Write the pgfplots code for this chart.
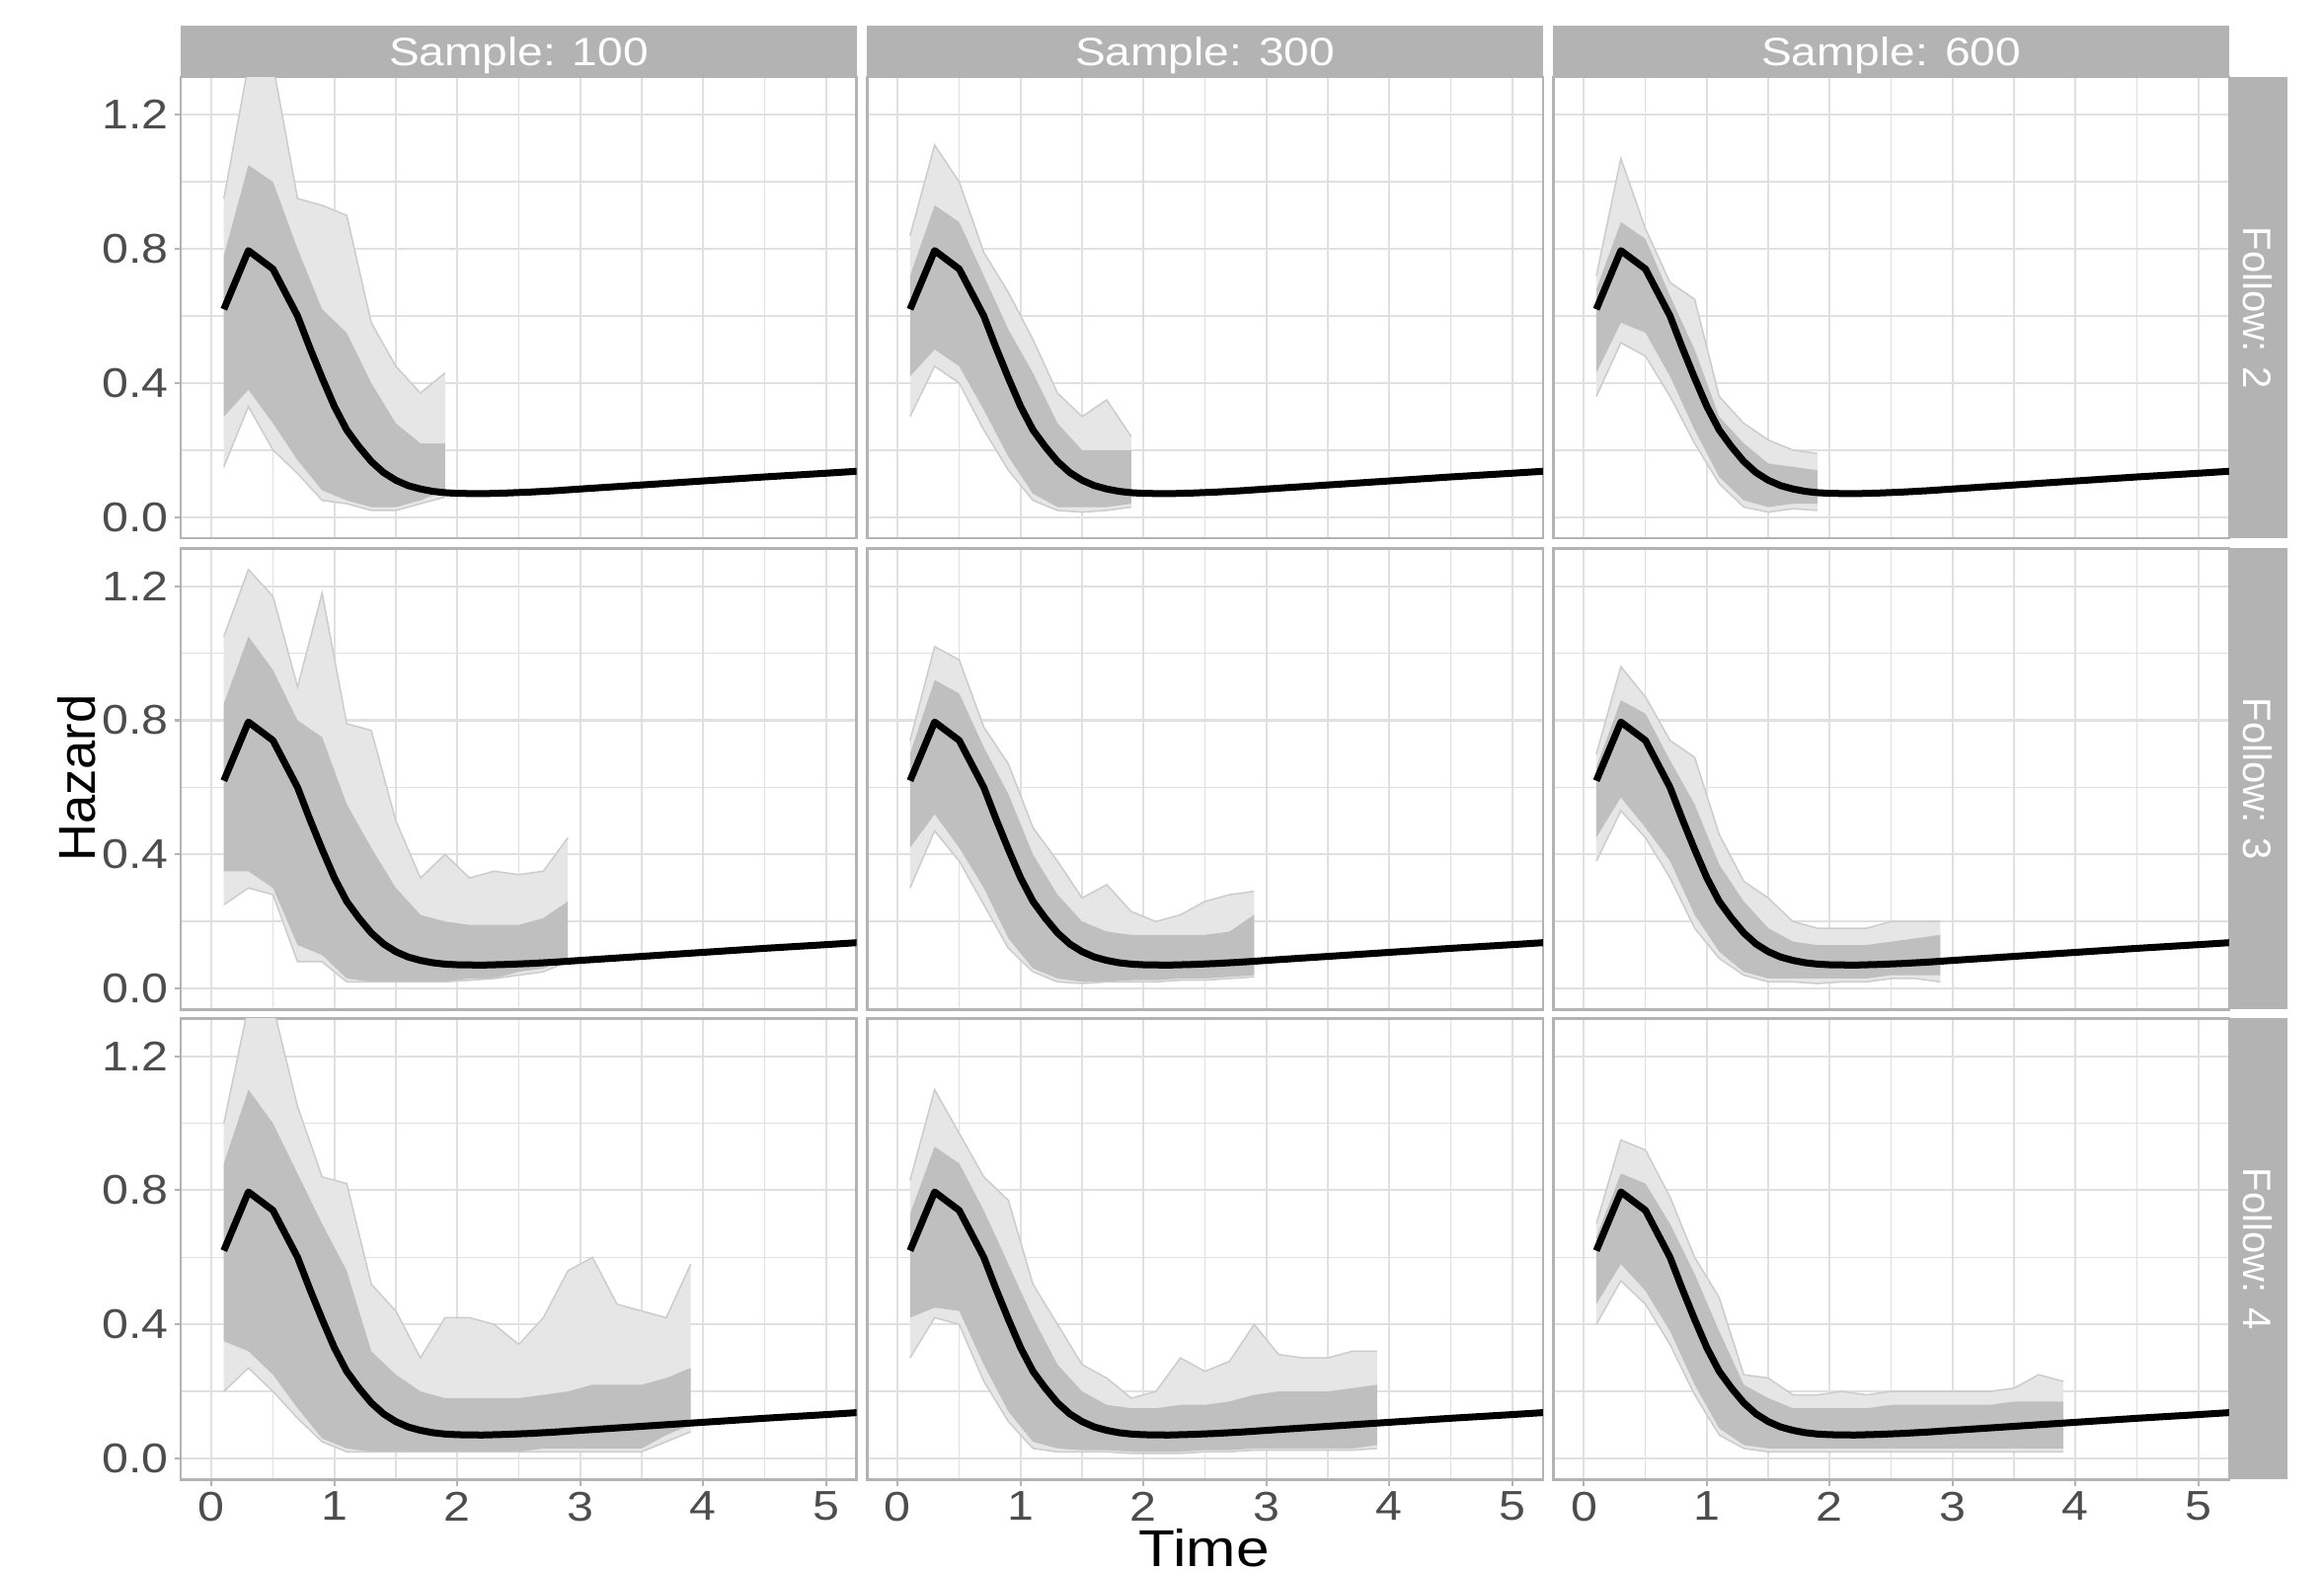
\documentclass[border=0pt]{standalone}
\usepackage{pgfplots}
\pgfplotsset{compat=1.18}
\usepackage{pgfplotstable}
\usepgfplotslibrary{fillbetween}
\usepackage{fontspec}
\setmainfont{Liberation Sans}[FakeStretch=1.15]
\newfontfamily\plainfont{Liberation Sans}

\definecolor{stripc}{HTML}{B3B3B3}
\definecolor{gridc}{HTML}{E0E0E0}
\definecolor{tickc}{HTML}{4D4D4D}
\definecolor{corec}{HTML}{BFBFBF}
\definecolor{outerc}{HTML}{E6E6E6}
\definecolor{edgec}{HTML}{CCCCCC}

% true hazard (black line)
\pgfplotstableread{
x y
0.1 0.62
0.3 0.795
0.5 0.74
0.6 0.67
0.7 0.60
0.8 0.505
0.9 0.415
1.0 0.33
1.1 0.26
1.2 0.21
1.3 0.166
1.4 0.133
1.5 0.110
1.6 0.094
1.7 0.084
1.8 0.077
1.9 0.073
2.0 0.071
2.2 0.070
2.4 0.072
2.6 0.075
2.8 0.079
3.0 0.084
3.5 0.096
4.0 0.108
4.5 0.120
5.0 0.131
5.3 0.138
}\truth

% envelopes of the simulated curves: outer low, core low, core high, outer high
% Sample 100, Follow 2
\pgfplotstableread{
x olo lo hi ohi
0.1 0.15 0.30 0.78 0.95
0.3 0.33 0.38 1.05 1.35
0.5 0.20 0.28 1.00 1.35
0.7 0.13 0.17 0.80 0.95
0.9 0.05 0.08 0.62 0.93
1.1 0.04 0.05 0.55 0.90
1.3 0.02 0.03 0.40 0.58
1.5 0.02 0.03 0.28 0.45
1.7 0.04 0.05 0.22 0.37
1.9 0.06 0.08 0.22 0.43
}\pA
% Sample 300, Follow 2
\pgfplotstableread{
x olo lo hi ohi
0.1 0.30 0.42 0.72 0.84
0.3 0.45 0.50 0.93 1.11
0.5 0.40 0.45 0.88 1.00
0.7 0.26 0.32 0.72 0.79
0.9 0.14 0.18 0.56 0.67
1.1 0.05 0.07 0.43 0.53
1.3 0.02 0.03 0.28 0.37
1.5 0.015 0.03 0.20 0.30
1.7 0.02 0.03 0.20 0.35
1.9 0.03 0.04 0.20 0.24
}\pB
% Sample 600, Follow 2
\pgfplotstableread{
x olo lo hi ohi
0.1 0.36 0.43 0.68 0.72
0.3 0.52 0.58 0.88 1.07
0.5 0.48 0.55 0.83 0.86
0.7 0.36 0.42 0.66 0.70
0.9 0.22 0.26 0.50 0.65
1.1 0.10 0.12 0.30 0.36
1.3 0.03 0.05 0.22 0.28
1.5 0.015 0.03 0.16 0.23
1.7 0.025 0.04 0.15 0.20
1.9 0.02 0.04 0.14 0.19
}\pC
% Sample 100, Follow 3
\pgfplotstableread{
x olo lo hi ohi
0.1 0.25 0.35 0.85 1.05
0.3 0.30 0.35 1.05 1.25
0.5 0.28 0.30 0.95 1.17
0.7 0.08 0.13 0.80 0.90
0.9 0.08 0.10 0.75 1.18
1.1 0.02 0.03 0.55 0.79
1.3 0.02 0.02 0.42 0.77
1.5 0.02 0.02 0.30 0.50
1.7 0.02 0.02 0.22 0.33
1.9 0.02 0.02 0.20 0.40
2.1 0.025 0.03 0.19 0.33
2.3 0.03 0.03 0.19 0.35
2.5 0.04 0.05 0.19 0.34
2.7 0.05 0.06 0.21 0.35
2.9 0.08 0.09 0.26 0.45
}\pD
% Sample 300, Follow 3
\pgfplotstableread{
x olo lo hi ohi
0.1 0.30 0.42 0.70 0.74
0.3 0.47 0.52 0.92 1.02
0.5 0.38 0.42 0.88 0.98
0.7 0.25 0.30 0.72 0.78
0.9 0.12 0.15 0.58 0.67
1.1 0.05 0.06 0.40 0.48
1.3 0.02 0.03 0.28 0.38
1.5 0.015 0.02 0.20 0.27
1.7 0.02 0.02 0.17 0.31
1.9 0.02 0.025 0.16 0.23
2.1 0.02 0.025 0.16 0.20
2.3 0.025 0.03 0.16 0.22
2.5 0.025 0.03 0.16 0.26
2.7 0.03 0.035 0.17 0.28
2.9 0.035 0.04 0.22 0.29
}\pE
% Sample 600, Follow 3
\pgfplotstableread{
x olo lo hi ohi
0.1 0.38 0.45 0.66 0.70
0.3 0.53 0.57 0.86 0.96
0.5 0.45 0.48 0.82 0.87
0.7 0.33 0.38 0.68 0.74
0.9 0.18 0.22 0.55 0.69
1.1 0.09 0.11 0.37 0.46
1.3 0.04 0.05 0.26 0.32
1.5 0.02 0.03 0.18 0.27
1.7 0.02 0.03 0.14 0.20
1.9 0.015 0.03 0.13 0.18
2.1 0.02 0.03 0.13 0.18
2.3 0.02 0.03 0.13 0.18
2.5 0.03 0.04 0.14 0.20
2.7 0.03 0.04 0.15 0.20
2.9 0.02 0.04 0.16 0.20
}\pF
% Sample 100, Follow 4
\pgfplotstableread{
x olo lo hi ohi
0.1 0.20 0.35 0.88 1.00
0.3 0.27 0.32 1.10 1.35
0.5 0.20 0.25 1.00 1.35
0.7 0.12 0.15 0.85 1.05
0.9 0.05 0.06 0.70 0.84
1.1 0.02 0.03 0.56 0.82
1.3 0.02 0.02 0.32 0.52
1.5 0.02 0.02 0.25 0.44
1.7 0.02 0.02 0.20 0.30
1.9 0.02 0.02 0.18 0.42
2.1 0.02 0.02 0.18 0.42
2.3 0.02 0.02 0.18 0.40
2.5 0.02 0.02 0.18 0.34
2.7 0.02 0.03 0.19 0.42
2.9 0.02 0.03 0.20 0.56
3.1 0.02 0.03 0.22 0.60
3.3 0.02 0.03 0.22 0.46
3.5 0.02 0.03 0.22 0.44
3.7 0.05 0.07 0.24 0.42
3.9 0.08 0.10 0.27 0.58
}\pG
% Sample 300, Follow 4
\pgfplotstableread{
x olo lo hi ohi
0.1 0.30 0.42 0.73 0.83
0.3 0.42 0.45 0.93 1.10
0.5 0.40 0.44 0.88 0.97
0.7 0.23 0.28 0.74 0.84
0.9 0.11 0.14 0.58 0.77
1.1 0.03 0.05 0.42 0.52
1.3 0.02 0.03 0.28 0.40
1.5 0.02 0.025 0.20 0.28
1.7 0.02 0.025 0.16 0.24
1.9 0.015 0.02 0.15 0.18
2.1 0.015 0.02 0.15 0.20
2.3 0.015 0.02 0.16 0.30
2.5 0.02 0.025 0.16 0.26
2.7 0.02 0.025 0.17 0.29
2.9 0.025 0.03 0.19 0.40
3.1 0.025 0.03 0.20 0.31
3.3 0.025 0.03 0.20 0.30
3.5 0.025 0.03 0.20 0.30
3.7 0.025 0.03 0.21 0.32
3.9 0.03 0.04 0.22 0.32
}\pH
% Sample 600, Follow 4
\pgfplotstableread{
x olo lo hi ohi
0.1 0.40 0.46 0.66 0.70
0.3 0.53 0.58 0.85 0.95
0.5 0.46 0.50 0.82 0.92
0.7 0.34 0.38 0.70 0.78
0.9 0.19 0.22 0.55 0.60
1.1 0.07 0.09 0.38 0.48
1.3 0.03 0.04 0.22 0.25
1.5 0.02 0.03 0.18 0.24
1.7 0.02 0.03 0.15 0.19
1.9 0.02 0.03 0.15 0.19
2.1 0.02 0.03 0.15 0.20
2.3 0.02 0.03 0.15 0.19
2.5 0.02 0.03 0.16 0.20
2.7 0.02 0.03 0.16 0.20
2.9 0.02 0.03 0.16 0.20
3.1 0.02 0.03 0.16 0.20
3.3 0.02 0.03 0.16 0.20
3.5 0.02 0.03 0.17 0.21
3.7 0.02 0.03 0.17 0.25
3.9 0.02 0.03 0.17 0.23
}\pI

\pgfplotsset{
  panel/.style={
    scale only axis, width=136.8pt, height=93.3pt, anchor=north west,
    xmin=-0.25, xmax=5.25, ymin=-0.0625, ymax=1.3125,
    xtick={0,1,2,3,4,5}, ytick={0,0.4,0.8,1.2},
    minor xtick={0.5,1.5,2.5,3.5,4.5}, minor ytick={0.2,0.6,1.0},
    grid=both,
    major grid style={line width=0.4pt, draw=gridc},
    minor grid style={line width=0.3pt, draw=gridc},
    axis line style={draw=stripc, line width=0.5pt},
    tick pos=left, tick align=outside,
    major tick length=1.3pt, minor tick length=0pt,
    xtick style={draw=none}, ytick style={draw=none},
    tick label style={font=\fontsize{8.4}{10}\selectfont, text=tickc, inner sep=1pt},
    xticklabels={}, yticklabels={},
  },
  xlab/.style={xticklabels={0,1,2,3,4,5}, xtick style={draw=stripc, line width=0.4pt}},
  ylab/.style={yticklabels={0.0,0.4,0.8,1.2}, ytick style={draw=stripc, line width=0.4pt}},
}

% one facet: position, envelope table, extra options
\newcommand{\facet}[4]{%
  \begin{axis}[panel, at={(#1,#2)}, #4]
    \addplot[draw=none, name path=oh] table[x=x, y=ohi] {#3};
    \addplot[draw=none, name path=ol] table[x=x, y=olo] {#3};
    \addplot[outerc] fill between[of=oh and ol];
    \addplot[draw=none, name path=ch] table[x=x, y=hi] {#3};
    \addplot[draw=none, name path=cl] table[x=x, y=lo] {#3};
    \addplot[corec] fill between[of=ch and cl];
    \addplot[edgec, line width=0.3pt] table[x=x, y=ohi] {#3};
    \addplot[edgec, line width=0.3pt] table[x=x, y=olo] {#3};
    \addplot[black, line width=1.4pt, line join=round] table[x=x, y=y] {\truth};
  \end{axis}}

\begin{document}
\begin{tikzpicture}
\facet{36.6pt}{-15.6pt}{\pA}{ylab}
\facet{175.5pt}{-15.6pt}{\pB}{}
\facet{314.4pt}{-15.6pt}{\pC}{}
\facet{36.6pt}{-111pt}{\pD}{ylab}
\facet{175.5pt}{-111pt}{\pE}{}
\facet{314.4pt}{-111pt}{\pF}{}
\facet{36.6pt}{-206.1pt}{\pG}{ylab, xlab}
\facet{175.5pt}{-206.1pt}{\pH}{xlab}
\facet{314.4pt}{-206.1pt}{\pI}{xlab}

% column strips
\fill[stripc] (36.6pt,-5.1pt) rectangle (173.4pt,-15.6pt);
\fill[stripc] (175.5pt,-5.1pt) rectangle (312.3pt,-15.6pt);
\fill[stripc] (314.4pt,-5.1pt) rectangle (451.2pt,-15.6pt);
\node[anchor=base, inner sep=0pt, text=white, font=\fontsize{8}{9.6}\selectfont] at (105pt,-13.3pt) {Sample: 100};
\node[anchor=base, inner sep=0pt, text=white, font=\fontsize{8}{9.6}\selectfont] at (243.9pt,-13.3pt) {Sample: 300};
\node[anchor=base, inner sep=0pt, text=white, font=\fontsize{8}{9.6}\selectfont] at (382.8pt,-13.3pt) {Sample: 600};

% row strips
\fill[stripc] (451.2pt,-15.6pt) rectangle (462.9pt,-108.9pt);
\fill[stripc] (451.2pt,-111pt) rectangle (462.9pt,-204.3pt);
\fill[stripc] (451.2pt,-206.1pt) rectangle (462.9pt,-299.4pt);
\node[text=white, rotate=-90, inner sep=0pt, font=\plainfont\fontsize{8}{9.6}\selectfont] at (457.05pt,-62.25pt) {Follow: 2};
\node[text=white, rotate=-90, inner sep=0pt, font=\plainfont\fontsize{8}{9.6}\selectfont] at (457.05pt,-157.65pt) {Follow: 3};
\node[text=white, rotate=-90, inner sep=0pt, font=\plainfont\fontsize{8}{9.6}\selectfont] at (457.05pt,-252.75pt) {Follow: 4};

% axis titles
\node[rotate=90, inner sep=0pt, font=\plainfont\fontsize{10.5}{12}\selectfont] at (15.6pt,-157.5pt) {Hazard};
\node[inner sep=0pt, font=\fontsize{10.5}{12}\selectfont] at (243.75pt,-313.2pt) {Time};

% page extent
\path (0pt,0pt) rectangle (470.4pt,-318pt);
\end{tikzpicture}
\end{document}
